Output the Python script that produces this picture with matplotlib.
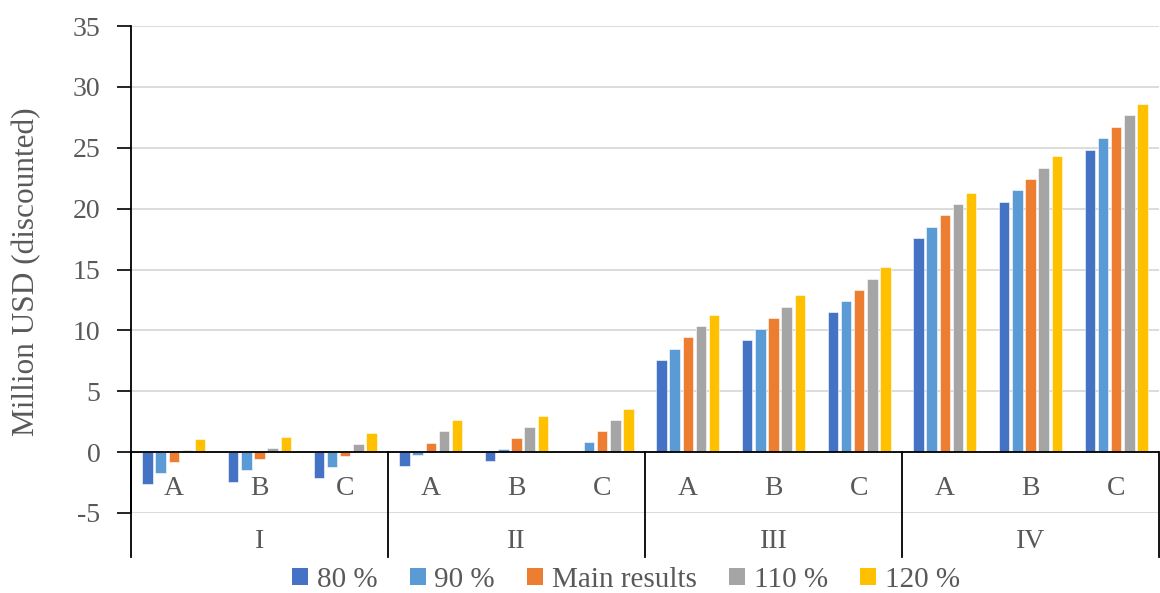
import matplotlib
matplotlib.use("Agg")
import matplotlib.pyplot as plt
from matplotlib.patches import Patch
import numpy as np

plt.rcParams['font.family'] = ['Liberation Serif', 'DejaVu Serif']

groups = ["I", "II", "III", "IV"]
subcats = ["A", "B", "C"]
series_names = ["80 %", "90 %", "Main results", "110 %", "120 %"]
colors = ["#4472C4", "#5B9BD5", "#ED7D31", "#A5A5A5", "#FFC000"]

# values per series, ordered I-A, I-B, I-C, II-A, ... IV-C
v80 = [-2.6, -2.45, -2.15, -1.1, -0.7, -0.02, 7.6, 9.2, 11.5, 17.6, 20.55, 24.85]
v90 = [-1.7, -1.5, -1.2, -0.2, 0.22, 0.8, 8.5, 10.1, 12.4, 18.5, 21.5, 25.8]
vmain = [-0.8, -0.6, -0.3, 0.75, 1.12, 1.73, 9.43, 11.05, 13.33, 19.45, 22.42, 26.73]
v110 = [0.15, 0.35, 0.65, 1.7, 2.1, 2.65, 10.35, 11.95, 14.25, 20.37, 23.36, 27.66]
v120 = [1.05, 1.25, 1.57, 2.6, 3.0, 3.57, 11.3, 12.88, 15.17, 21.3, 24.3, 28.6]
series = [v80, v90, vmain, v110, v120]

yticks = [-5, 0, 5, 10, 15, 20, 25, 30, 35]
ylabel = "Million USD (discounted)"

text_color = "#595959"
fs = 20

fig = plt.figure(figsize=(11.6, 5.93), dpi=100)
ax = fig.add_axes([131 / 1160, 80 / 593, 1028 / 1160, 487 / 593])

n_cat = len(groups) * len(subcats)
x = np.arange(n_cat)
pitch = 0.154
width = 0.122
for i, (vals, col) in enumerate(zip(series, colors)):
    ax.bar(x + (i - 2) * pitch, vals, width=width, color=col,
           edgecolor="white", linewidth=0.4, zorder=3)

ax.set_xlim(-0.5, n_cat - 0.5)
ax.set_ylim(-5, 35)
ax.set_yticks(yticks)
ax.set_yticklabels([str(t) for t in yticks], fontsize=fs, color=text_color)
ax.tick_params(axis="y", length=10, width=1.2, color="black", pad=12)
ax.tick_params(axis="x", bottom=False, labelbottom=False)
ax.yaxis.grid(True, color="#D9D9D9", linewidth=1.3, zorder=0)
ax.set_axisbelow(True)
for s in ["top", "right", "bottom"]:
    ax.spines[s].set_visible(False)
ax.spines["left"].set_linewidth(1.3)
ax.spines["left"].set_color("black")

ax.set_ylabel(ylabel, fontsize=22.5, color=text_color)
ax.yaxis.set_label_coords(-90 / 1028, 0.495)

# category axis at zero
ax.axhline(0, color="black", linewidth=1.3, zorder=4)

# sub-category labels just under the zero line
for k in range(n_cat):
    ax.text(x[k], -2.95, subcats[k % len(subcats)], ha="center", va="center",
            fontsize=fs, color=text_color, zorder=5)

# group separators and group labels, extending below the plot area
y_sep_bottom = -8.65
for g in range(len(groups) + 1):
    xs = g * len(subcats) - 0.5
    ax.plot([xs, xs], [0, y_sep_bottom], color="black", linewidth=1.3,
            clip_on=False, zorder=5)
for g, name in enumerate(groups):
    xc = g * len(subcats) + (len(subcats) - 1) / 2
    ax.text(xc, -7.35, name, ha="center", va="center", fontsize=fs,
            color=text_color, clip_on=False)

handles = [Patch(facecolor=c, edgecolor="none") for c in colors]
fig.legend(handles, series_names, loc="center", bbox_to_anchor=(626 / 1160, 0.022),
           ncol=5, frameon=False, fontsize=21, labelcolor=text_color,
           handlelength=0.55, handleheight=0.55, handletextpad=0.3,
           columnspacing=1.1)

fig.savefig("out.png", dpi=100)
